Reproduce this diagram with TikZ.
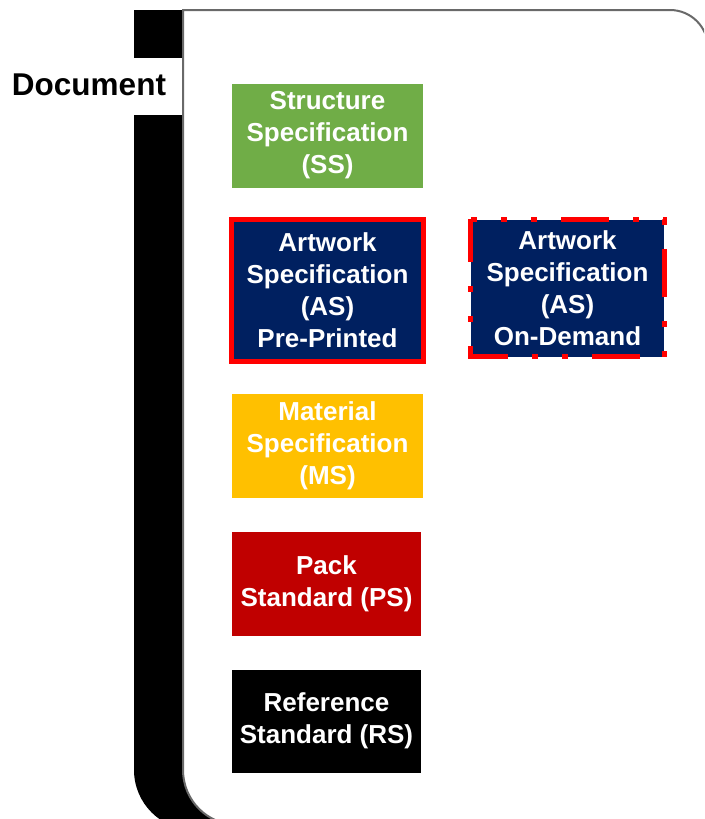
\documentclass[tikz,border=0pt]{standalone}
\usepackage{fontspec}
\setmainfont{Liberation Sans}
\definecolor{ssgreen}{RGB}{112,173,71}
\definecolor{asnavy}{RGB}{0,32,96}
\definecolor{msgold}{RGB}{255,192,0}
\definecolor{psred}{RGB}{192,0,0}
\definecolor{edgegray}{RGB}{105,105,105}
\begin{document}
\begin{tikzpicture}[x=1pt,y=-1pt,
  box/.style={inner sep=0pt, align=center, text=white,
    font=\bfseries\fontsize{26}{32}\selectfont},
  label/.style={inner sep=0pt, font=\bfseries\fontsize{31.5}{36}\selectfont},
  dashedge/.style={draw=red, line width=5pt, line join=miter,
    dash pattern=on 48pt off 24pt on 6pt off 24pt on 6pt off 24pt, dash phase=5pt}]
\useasboundingbox (0,0) rectangle (704,819);
\clip (0,0) rectangle (704,819);
% black band
\fill[black] (134,10) rectangle (190,58);
\fill[black] (134,115) -- (134,770) .. controls (134,803.1) and (160.9,830) .. (194,830) -- (300,830) -- (300,115) -- cycle;
% white panel
\filldraw[fill=white, draw=edgegray, line width=2pt]
  (183,10) -- (670,10) .. controls (691,10) and (708,27) .. (708,48)
  -- (708,825) -- (238,825) .. controls (207.6,825) and (183,800.4) .. (183,770) -- cycle;
% label
\node[label] (doc) at (89,85) {Document};
% boxes
\node[box, fill=ssgreen, minimum width=191pt, minimum height=104pt] (ss) at (327.5,135.5)
  {Structure\\Specification\\(SS)};
\node[box, fill=asnavy, draw=red, line width=5pt, minimum width=192pt, minimum height=142pt] (aspre) at (327.5,290.5)
  {Artwork\\Specification\\(AS)\\Pre-Printed};
\node[box, fill=asnavy, minimum width=193pt, minimum height=137pt] (asod) at (567.5,288)
  {Artwork\\Specification\\(AS)\\On-Demand};
\draw[dashedge] (asod.north west) -- (asod.south west) -- (asod.south east)
  -- (asod.north east) -- cycle;
\node[box, fill=msgold, minimum width=191pt, minimum height=104pt] (ms) at (327.5,446)
  {Material\\Specification\\(MS)};
\node[box, fill=psred, minimum width=189pt, minimum height=104pt] (ps) at (326.5,583.5)
  {Pack\\Standard (PS)};
\node[box, fill=black, minimum width=189pt, minimum height=103pt] (rs) at (326.5,721)
  {Reference\\Standard (RS)};
\end{tikzpicture}
\end{document}
